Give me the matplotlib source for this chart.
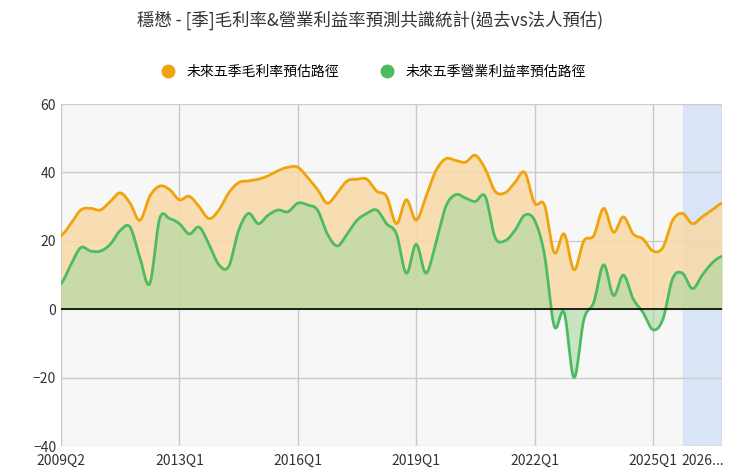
import numpy as np
import matplotlib
matplotlib.use("Agg")
import matplotlib.pyplot as plt
from matplotlib.lines import Line2D

plt.rcParams['font.family'] = ['Noto Sans CJK TC', 'DejaVu Sans']

tick_labels = ["2009Q2", "2013Q1", "2016Q1", "2019Q1", "2022Q1", "2025Q1", "2026..."]
tick_idx = [0, 12, 24, 36, 48, 60, 65]

gross = [21.5, 25, 29, 29.5, 29, 31.5, 34, 31, 26, 33, 36, 35, 32, 33, 30, 26.5,
         29, 34, 37, 37.5, 38, 39, 40.5, 41.5, 41.5, 38.5, 35, 31, 34, 37.5, 38, 38,
         34.5, 33, 25, 32, 26, 33, 40.5, 44, 43.5, 43, 45, 41, 34.5, 34, 37, 40,
         31, 30.5, 16.5, 22, 11.5, 20, 21.5, 29.5, 22.5, 27, 22, 20.5, 17, 18,
         26, 28, 25, 27, 29, 31]
oper = [7.5, 13, 18, 17, 17, 19, 23, 24, 15, 7.5, 26.5, 26.5, 25, 22, 24, 19,
        13, 12.5, 23, 28, 25, 27.5, 29, 28.5, 31, 30.5, 29, 22, 18.5, 22, 26, 28,
        29, 25, 22, 10.5, 19, 10.5, 19.5, 30, 33.5, 32.5, 31.5, 33, 21, 20, 23, 27.5,
        26, 16, -5, -1, -20, -3, 2, 13, 4, 10, 3, -1, -6, -3,
        9, 10.5, 6, 10, 13.5, 15.5]
forecast_start, forecast_end = 63, 67

def spline(y, n=12):
    y = np.asarray(y, float)
    p = np.concatenate([[y[0]], y, [y[-1]]])
    xs, ys = [], []
    for i in range(len(y) - 1):
        p0, p1, p2, p3 = p[i], p[i+1], p[i+2], p[i+3]
        t = np.linspace(0, 1, n, endpoint=False)
        v = 0.5*((2*p1) + (-p0+p2)*t + (2*p0-5*p1+4*p2-p3)*t**2 + (-p0+3*p1-3*p2+p3)*t**3)
        xs.append(i + t); ys.append(v)
    xs.append([len(y)-1]); ys.append([y[-1]])
    return np.concatenate(xs), np.concatenate(ys)

fig = plt.figure(figsize=(7.4, 4.73), dpi=100)
ax = fig.add_axes([61/740, 1-446/473, 661/740, 342/473])
ax.set_facecolor('#f7f7f7')
fig.patch.set_facecolor('white')

ax.axvspan(forecast_start, forecast_end, color='#d9e4f7', zorder=0)
for xi in tick_idx[:-1] + [len(gross)-1]:
    ax.axvline(xi, color='#c8c8c8', lw=1, zorder=0.5)

xg, yg = spline(gross)
xo, yo = spline(oper)
ax.fill_between(xg, 0, yg, color='#f9d9a6', alpha=0.85, zorder=1, lw=0)
ax.fill_between(xo, 0, yo, color='#a9d8a0', alpha=0.6, zorder=2, lw=0)
ax.plot(xg, yg, color='#f0a30a', lw=2, zorder=3)
ax.plot(xo, yo, color='#4dbb62', lw=2, zorder=3)
ax.axhline(0, color='black', lw=1.2, zorder=4)

ax.set_xlim(0, len(gross)-1)
ax.set_ylim(-40, 60)
ax.set_yticks([-40, -20, 0, 20, 40, 60])
ax.set_xticks(tick_idx)
ax.set_xticklabels(tick_labels)
ax.grid(True, axis='y', color='#cccccc', lw=1, zorder=0)
ax.set_axisbelow(True)
for s in ax.spines.values():
    s.set_visible(False)
ax.tick_params(length=0, labelsize=10, colors='#333333')
ax.tick_params(axis='x', pad=6)

fig.text(0.5, 1-20/473, "穩懋 - [季]毛利率&營業利益率預測共識統計(過去vs法人預估)",
         ha='center', va='center', fontsize=12.5, color='#333333')
handles = [Line2D([], [], marker='o', ls='', color='#f0a30a', markersize=9),
           Line2D([], [], marker='o', ls='', color='#4dbb62', markersize=9)]
fig.legend(handles, ["未來五季毛利率預估路徑", "未來五季營業利益率預估路徑"],
           loc='center', bbox_to_anchor=(0.5, 1-72/473), ncol=2, frameon=False,
           fontsize=10, handletextpad=0.3, columnspacing=2.5)

fig.savefig("out.png", dpi=100)
